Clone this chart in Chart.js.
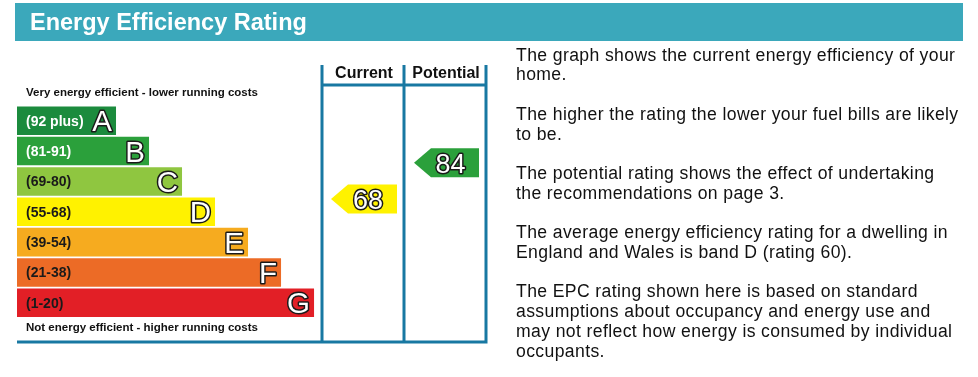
<!DOCTYPE html>
<html><head><meta charset="utf-8">
<script src="https://cdn.jsdelivr.net/npm/chart.js@4.4.1/dist/chart.umd.min.js"></script>
<style>html,body{margin:0;padding:0;background:#fff}canvas{display:block}</style>
</head><body>
<canvas id="c" width="978" height="377"></canvas>
<script>
// ---- data ----
const bandLetters = ['A','B','C','D','E','F','G'];
const bandRanges  = ['(92 plus)','(81-91)','(69-80)','(55-68)','(39-54)','(21-38)','(1-20)'];
const bandMins    = [92,81,69,55,39,21,1];
const bandLengths = [3,4,5,6,7,8,9];
const columnLabels = ['Current','Potential'];
const ratings      = [68,84];
const titleText  = 'Energy Efficiency Rating';
const topNote    = 'Very energy efficient - lower running costs';
const bottomNote = 'Not energy efficient - higher running costs';
const infoLines = [
  'The graph shows the current energy efficiency of your','home.','',
  'The higher the rating the lower your fuel bills are likely','to be.','',
  'The potential rating shows the effect of undertaking','the recommendations on page 3.','',
  'The average energy efficiency rating for a dwelling in','England and Wales is band D (rating 60).','',
  'The EPC rating shown here is based on standard','assumptions about occupancy and energy use and',
  'may not reflect how energy is consumed by individual','occupants.'
];

// ---- style ----
const bandColors = ['#1b8b3d','#2ba03b','#8fc640','#fff200','#f6ab1f','#ec6b26','#e21f26'];
const bandTextColors = ['#ffffff','#ffffff','#1a1a1a','#1a1a1a','#1a1a1a','#1a1a1a','#1a1a1a'];
const FONT = '"Liberation Sans", Arial, Helvetica, sans-serif';
const teal = '#3ba8bb';
const frame = '#1878a2';

function bandIndex(v){ for(let i=0;i<bandMins.length;i++){ if(v>=bandMins[i]) return i; } return bandMins.length-1; }

function outlinedText(ctx, txt, x, y, size, align){
  ctx.font = size + 'px ' + FONT;
  ctx.textAlign = align; ctx.textBaseline = 'alphabetic';
  ctx.lineJoin = 'round';
  ctx.lineWidth = 3; ctx.strokeStyle = '#1a1a1a';
  ctx.strokeText(txt, x, y);
  ctx.fillStyle = '#ffffff';
  ctx.fillText(txt, x, y);
}

const epcPlugin = {
  id: 'epc',
  afterDatasetsDraw(chart){
    const ctx = chart.ctx, ca = chart.chartArea;
    const meta = chart.getDatasetMeta(0);
    ctx.save();
    // band labels and letters
    meta.data.forEach((bar, i) => {
      ctx.font = 'bold 14px ' + FONT;
      ctx.textAlign = 'left'; ctx.textBaseline = 'middle';
      ctx.fillStyle = bandTextColors[i];
      ctx.fillText(bandRanges[i], bar.base + 9, bar.y + 1);
      outlinedText(ctx, bandLetters[i], bar.x - 4, bar.y + 10.5, 29.5, 'right');
    });
    // notes
    ctx.fillStyle = '#111'; ctx.textAlign = 'left'; ctx.textBaseline = 'middle';
    ctx.font = 'bold 11.5px ' + FONT;
    ctx.fillText(topNote, ca.left + 9, ca.top - 12.5);
    ctx.fillText(bottomNote, ca.left + 9, ca.bottom + 10);
    // frame
    const colL = ca.right - 164, colM = ca.right - 82, colR = ca.right;
    const frameTop = 65, headLine = 85, frameBottom = ca.bottom + 24;
    ctx.strokeStyle = frame; ctx.lineWidth = 3; ctx.lineCap = 'butt';
    ctx.beginPath();
    [colL, colM, colR].forEach(x => { ctx.moveTo(x, frameTop); ctx.lineTo(x, frameBottom + 1.5); });
    ctx.moveTo(colL, headLine); ctx.lineTo(colR + 1.5, headLine);
    ctx.moveTo(ca.left, frameBottom); ctx.lineTo(colR + 1.5, frameBottom);
    ctx.stroke();
    // column headers
    ctx.fillStyle = '#111'; ctx.font = 'bold 16px ' + FONT; ctx.textAlign = 'center'; ctx.textBaseline = 'middle';
    ctx.fillText(columnLabels[0], (colL + colM) / 2 + 1, 74);
    ctx.fillText(columnLabels[1], (colM + colR) / 2 + 1, 74);
    // arrows
    const ys = chart.scales.yr;
    const cols = [[colL + 9, colM - 7], [colM + 10, colR - 7]];
    ratings.forEach((v, k) => {
      const y = ys.getPixelForValue(v);
      const [tip, right] = cols[k];
      const h = 14.5, tl = 17;
      ctx.fillStyle = bandColors[bandIndex(v)];
      ctx.beginPath();
      ctx.moveTo(tip, y);
      ctx.lineTo(tip + tl, y - h);
      ctx.lineTo(right, y - h);
      ctx.lineTo(right, y + h);
      ctx.lineTo(tip + tl, y + h);
      ctx.closePath(); ctx.fill();
      outlinedText(ctx, String(v), (tip + right) / 2 + 4, y + 10, 27, 'center');
    });
    ctx.restore();
  },
  afterDraw(chart){
    const ctx = chart.ctx;
    ctx.save();
    // title bar
    ctx.fillStyle = teal;
    ctx.fillRect(15, 3, 948, 38);
    ctx.fillStyle = '#ffffff'; ctx.font = 'bold 23.5px ' + FONT;
    ctx.textAlign = 'left'; ctx.textBaseline = 'alphabetic';
    ctx.fillText(titleText, 30, 30);
    // info text
    ctx.fillStyle = '#111'; ctx.font = '17.6px ' + FONT;
    if ('letterSpacing' in ctx) ctx.letterSpacing = '0.38px';
    infoLines.forEach((t, i) => { if (t) ctx.fillText(t, 516, 60.7 + i * 19.73); });
    ctx.restore();
  }
};

new Chart(document.getElementById('c'), {
  type: 'bar',
  data: {
    labels: bandLetters,
    datasets: [{
      data: bandLengths,
      backgroundColor: bandColors,
      borderWidth: 0,
      categoryPercentage: 1,
      barPercentage: 0.94
    }]
  },
  options: {
    indexAxis: 'y',
    responsive: false,
    animation: false,
    events: [],
    layout: { padding: { left: 17, right: 978 - 486, top: 105.5, bottom: 377 - 318 } },
    plugins: { legend: { display: false }, tooltip: { enabled: false }, title: { display: false } },
    scales: {
      x: { type: 'linear', min: 0, max: 14.21, display: false },
      y: { type: 'category', display: false },
      yr: { type: 'linear', position: 'right', min: 20.4, max: 104.2, display: false }
    }
  },
  plugins: [epcPlugin]
});
</script>
</body></html>
